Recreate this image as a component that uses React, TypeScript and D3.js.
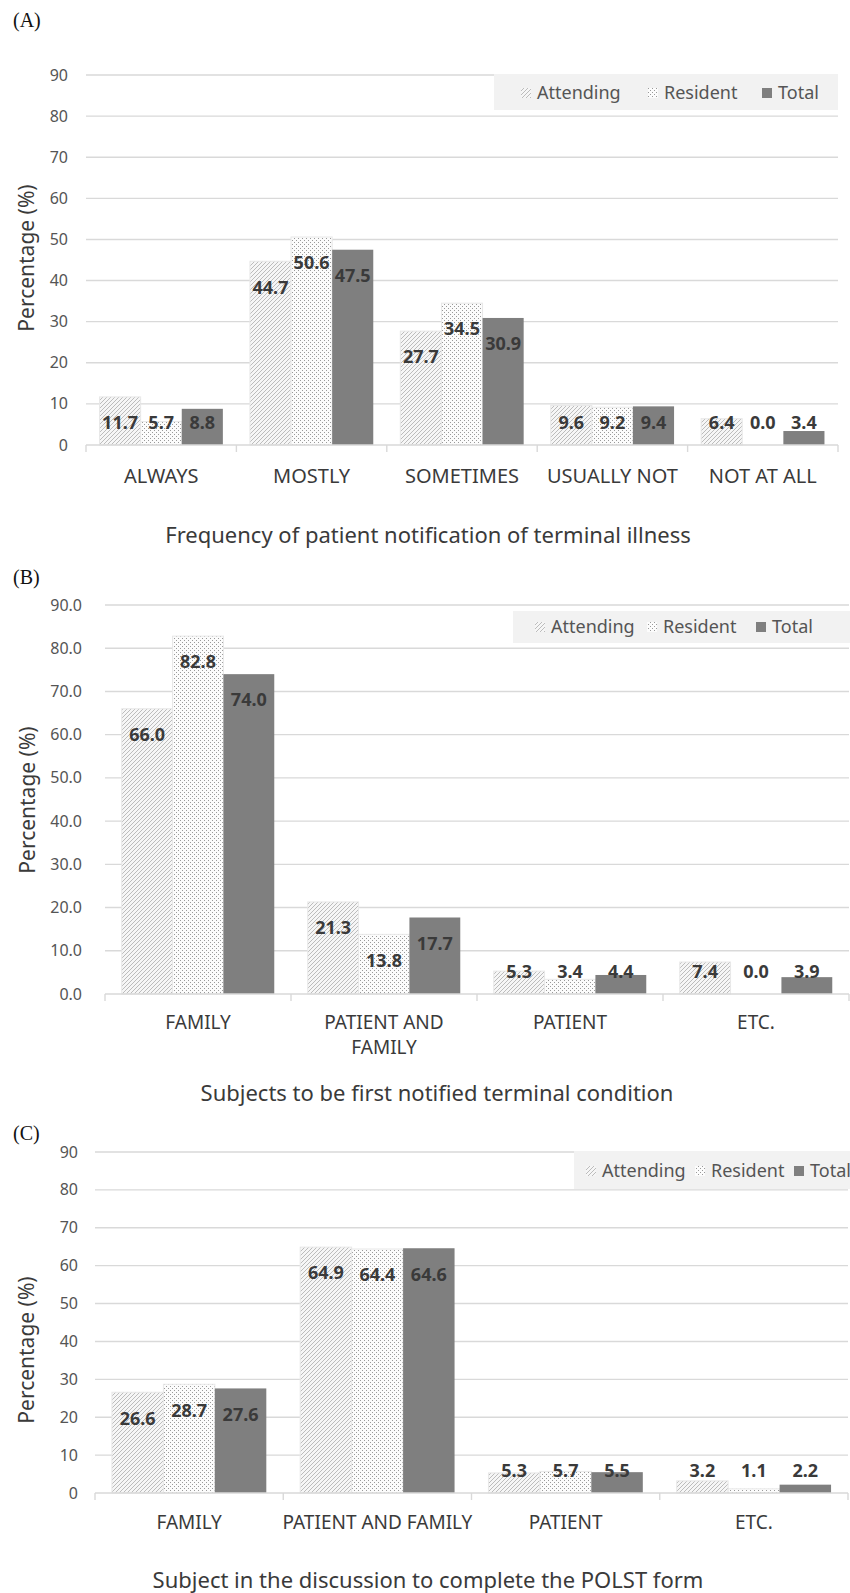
import React from "react";
import * as d3 from "d3";

// ---------- DATA ----------
const seriesNames = ["Attending", "Resident", "Total"];

const categoriesA = ["ALWAYS", "MOSTLY", "SOMETIMES", "USUALLY NOT", "NOT AT ALL"];
const attendingA = [11.7, 44.7, 27.7, 9.6, 6.4];
const residentA = [5.7, 50.6, 34.5, 9.2, 0.0];
const totalA = [8.8, 47.5, 30.9, 9.4, 3.4];
const ticksA = [0, 10, 20, 30, 40, 50, 60, 70, 80, 90];
const titleA = "Frequency of patient notification of terminal illness";

const categoriesB = ["FAMILY", "PATIENT AND|FAMILY", "PATIENT", "ETC."];
const attendingB = [66.0, 21.3, 5.3, 7.4];
const residentB = [82.8, 13.8, 3.4, 0.0];
const totalB = [74.0, 17.7, 4.4, 3.9];
const ticksB = [0, 10, 20, 30, 40, 50, 60, 70, 80, 90];
const titleB = "Subjects to be first notified terminal condition";

const categoriesC = ["FAMILY", "PATIENT AND FAMILY", "PATIENT", "ETC."];
const attendingC = [26.6, 64.9, 5.3, 3.2];
const residentC = [28.7, 64.4, 5.7, 1.1];
const totalC = [27.6, 64.6, 5.5, 2.2];
const ticksC = [0, 10, 20, 30, 40, 50, 60, 70, 80, 90];
const titleC = "Subject in the discussion to complete the POLST form";

const yAxisTitle = "Percentage (%)";

// ---------- LAYOUT ----------
const FONT = "'Noto Sans', 'Open Sans', sans-serif";
const GRID = "#d9d9d9";
const TEXT = "#3a3a3a";
const TICKTEXT = "#555555";
const TOTAL_FILL = "#7f7f7f";

const panels = [
  {
    id: "A", tag: "(A)", tagY: 27,
    cats: categoriesA, series: [attendingA, residentA, totalA], ticks: ticksA, fmt: d3.format("d"), title: titleA,
    left: 86, right: 838, y0: 445, yTop: 75, tickX: 68, yTitleX: 27, yTitleY: 258,
    catY: 476, catFont: 20, titleX: 428, titleY: 535,
    legend: { x: 494, y: 74, w: 344, h: 36, cy: 93, textX: [537, 664, 778] },
  },
  {
    id: "B", tag: "(B)", tagY: 584,
    cats: categoriesB, series: [attendingB, residentB, totalB], ticks: ticksB, fmt: d3.format(".1f"), title: titleB,
    left: 105, right: 849, y0: 994, yTop: 605, tickX: 82, yTitleX: 28, yTitleY: 800,
    catY: 1022, catFont: 19, titleX: 437, titleY: 1093,
    legend: { x: 513, y: 611, w: 337, h: 32, cy: 627, textX: [551, 663, 772] },
  },
  {
    id: "C", tag: "(C)", tagY: 1140,
    cats: categoriesC, series: [attendingC, residentC, totalC], ticks: ticksC, fmt: d3.format("d"), title: titleC,
    left: 95, right: 848, y0: 1493, yTop: 1152, tickX: 78, yTitleX: 27, yTitleY: 1350,
    catY: 1522, catFont: 19, titleX: 428, titleY: 1580,
    legend: { x: 574, y: 1151, w: 276, h: 38, cy: 1171, textX: [602, 711, 810] },
  },
];

const fills = ["url(#hatch)", "url(#dots)", TOTAL_FILL];

function Panel({ p }: { p: any }) {
  const x0 = d3.scaleBand<string>().domain(p.cats).range([p.left, p.right]).padding(0);
  const bw = x0.bandwidth();
  const pad = bw * 0.09;
  const x1 = d3.scaleBand<string>().domain(seriesNames).range([pad, bw - pad]).padding(0);
  const y = d3.scaleLinear().domain([0, 90]).range([p.y0, p.yTop]);
  const boundaries = p.cats.map((c: string) => x0(c) as number).concat([p.right]);

  return (
    <g>
      <text x={13} y={p.tagY} fontFamily="'Liberation Serif', 'Times New Roman', serif" fontSize={20} fill="#111">{p.tag}</text>
      {p.ticks.filter((t: number) => t > 0).map((t: number) => (
        <line key={t} x1={p.left} x2={p.right} y1={y(t)} y2={y(t)} stroke={GRID} strokeWidth={1.4} />
      ))}
      {p.ticks.map((t: number) => (
        <text key={"t" + t} x={p.tickX} y={y(t)} dy="0.35em" textAnchor="end" fontFamily={FONT} fontSize={16} fill={TICKTEXT}>{p.fmt(t)}</text>
      ))}
      <text transform={`translate(${p.yTitleX},${p.yTitleY}) rotate(-90)`} textAnchor="middle" dy="0.35em" fontFamily={FONT} fontSize={21} fill={TEXT}>{yAxisTitle}</text>
      <rect x={p.legend.x} y={p.legend.y} width={p.legend.w} height={p.legend.h} fill="#f2f2f2" />
      {seriesNames.map((s, i) => (
        <g key={s}>
          <rect x={p.legend.textX[i] - 16} y={p.legend.cy - 5} width={10} height={10} fill={fills[i]} />
          <text x={p.legend.textX[i]} y={p.legend.cy} dy="0.35em" fontFamily={FONT} fontSize={18} fill={TICKTEXT}>{s}</text>
        </g>
      ))}
      {p.cats.map((c: string, ci: number) => (
        <g key={c}>
          {seriesNames.map((s, si) => {
            const v = p.series[si][ci];
            const bx = (x0(c) as number) + (x1(s) as number);
            const by = y(v);
            return v > 0 ? (
              <rect key={s} x={bx} y={by} width={x1.bandwidth()} height={p.y0 - by} fill={fills[si]} stroke={si < 2 ? "#e8e8e8" : "none"} strokeWidth={1} />
            ) : null;
          })}
        </g>
      ))}
      <line x1={p.left} x2={p.right} y1={p.y0} y2={p.y0} stroke={GRID} strokeWidth={1.4} />
      {boundaries.map((bx: number, i: number) => (
        <line key={"b" + i} x1={bx} x2={bx} y1={p.y0} y2={p.y0 + 7} stroke={GRID} strokeWidth={1.4} />
      ))}
      {p.cats.map((c: string, ci: number) => (
        <g key={"l" + c}>
          {seriesNames.map((s, si) => {
            const v = p.series[si][ci];
            const cx = (x0(c) as number) + (x1(s) as number) + x1.bandwidth() / 2;
            const cy = Math.min(y(v) + 26, p.y0 - 22);
            return (
              <text key={s} x={cx} y={cy} dy="0.35em" textAnchor="middle" fontFamily={FONT} fontWeight="bold" fontSize={18} fill={TEXT}>{d3.format(".1f")(v)}</text>
            );
          })}
        </g>
      ))}
      {p.cats.map((c: string) => {
        const lines = c.split("|");
        const cx = (x0(c) as number) + bw / 2;
        return (
          <text key={"c" + c} x={cx} y={p.catY} textAnchor="middle" fontFamily={FONT} fontSize={p.catFont} fill={TEXT}>
            {lines.map((ln, li) => (
              <tspan key={li} x={cx} y={p.catY + li * 25} dy="0.35em">{ln}</tspan>
            ))}
          </text>
        );
      })}
      <text x={p.titleX} y={p.titleY} dy="0.35em" textAnchor="middle" fontFamily={FONT} fontSize={22} fill={TEXT}>{p.title}</text>
    </g>
  );
}

export default function App() {
  return (
    <svg width={850} height={1593} style={{ position: "absolute", left: 0, top: 0, background: "#fff" }}>
      <defs>
        <pattern id="hatch" width={4} height={4} patternUnits="userSpaceOnUse">
          <rect width={4} height={4} fill="#f6f6f6" />
          <path d="M-1,1 l2,-2 M0,4 l4,-4 M3,5 l2,-2" stroke="#b6b6b6" strokeWidth={0.9} />
        </pattern>
        <pattern id="dots" width={4} height={4} patternUnits="userSpaceOnUse">
          <rect width={4} height={4} fill="#fcfcfc" />
          <rect x={0} y={0} width={1} height={1} fill="#9a9a9a" />
          <rect x={2} y={2} width={1} height={1} fill="#9a9a9a" />
        </pattern>
      </defs>
      {panels.map((p) => (
        <Panel key={p.id} p={p} />
      ))}
    </svg>
  );
}
